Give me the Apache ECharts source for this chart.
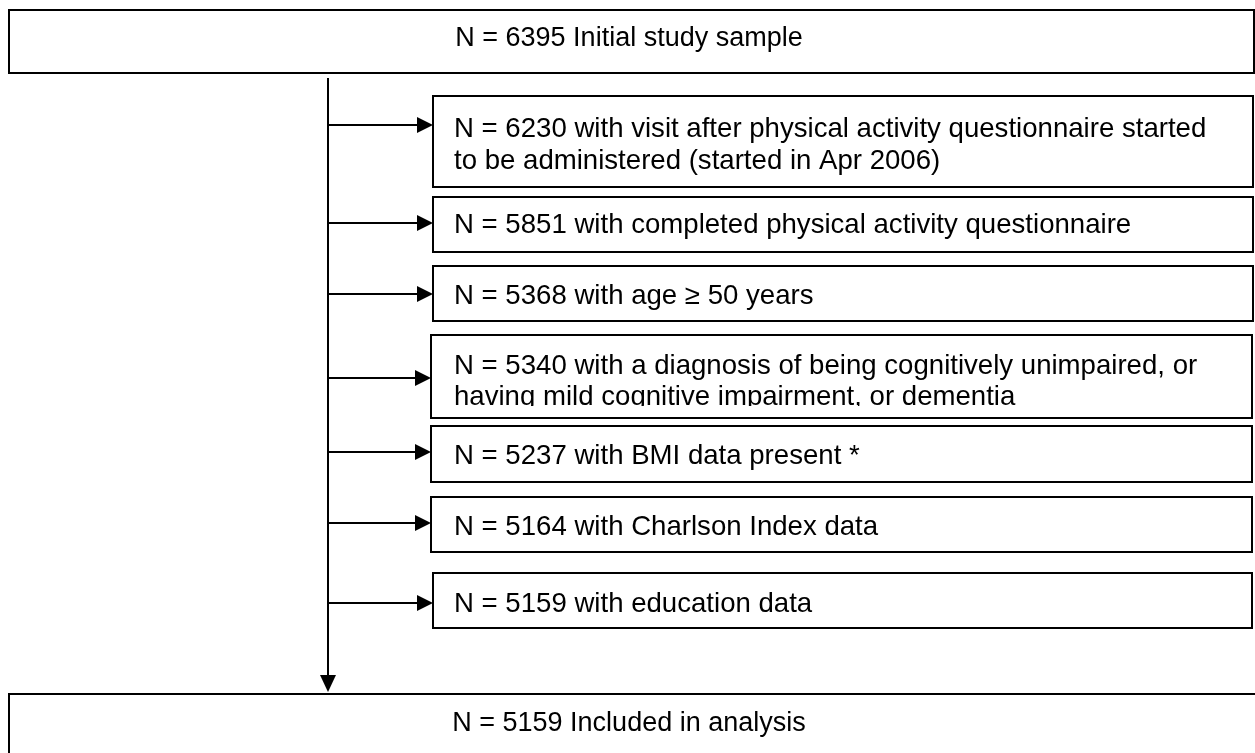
<!DOCTYPE html>
<html>
<head>
<meta charset="utf-8">
<script src="https://cdn.jsdelivr.net/npm/echarts@6/dist/echarts.min.js"></script>
<style>html,body{margin:0;padding:0;background:#fff}#c{width:1255px;height:753px}</style>
</head>
<body>
<div id="c"></div>
<script>
// ---- data ----
const topCount = 6395;
const topLabel = 'Initial study sample';
const stepCounts = [6230, 5851, 5368, 5340, 5237, 5164, 5159];
const stepLabels = [
  ['with visit after physical activity questionnaire started', 'to be administered (started in Apr 2006)'],
  ['with completed physical activity questionnaire'],
  ['with age \u2265 50 years'],
  ['with a diagnosis of being cognitively unimpaired, or', 'having mild cognitive impairment, or dementia'],
  ['with BMI data present *'],
  ['with Charlson Index data'],
  ['with education data']
];
const finalCount = 5159;
const finalLabel = 'Included in analysis';

// ---- layout (pixels) ----
const boxTop = [96, 197, 266, 335, 426, 497, 573];
const boxBottom = [187, 252, 321, 418, 482, 552, 628];
const boxLeft = [433, 433, 433, 431, 431, 431, 433];
const boxRight = [1253, 1253, 1253, 1252, 1252, 1252, 1252];
const textY = [[129, 161], [225], [296], [366, 397], [456], [527], [604]];
const arrowY = [125, 223, 294, 378, 452, 523, 603];
const spineX = 328;
const FONT = '27px "Liberation Sans", Arial, sans-serif';
const STEP_FONT = '27.6px "Liberation Sans", Arial, sans-serif';

const els = [];
const stroke = {stroke: '#000', lineWidth: 2, fill: '#fff'};
function box(x1, y1, x2, y2) {
  els.push({type: 'rect', shape: {x: x1, y: y1, width: x2 - x1, height: y2 - y1}, style: Object.assign({}, stroke), z: 1});
}
function txt(x, y, s, align, font) {
  els.push({type: 'text', x: x, y: y, style: {text: s, font: font || FONT, fill: '#000', align: align || 'left', verticalAlign: 'middle'}, z: 3});
}
function line(x1, y1, x2, y2) {
  els.push({type: 'line', shape: {x1: x1, y1: y1, x2: x2, y2: y2}, style: {stroke: '#000', lineWidth: 2}, z: 2});
}
function head(points) {
  els.push({type: 'polygon', shape: {points: points}, style: {fill: '#000'}, z: 2});
}

// top box
box(9, 10, 1254, 73);
txt(629, 39, 'N = ' + topCount + ' ' + topLabel, 'center');

// spine
line(spineX, 78, spineX, 678);
head([[spineX - 8, 675], [spineX + 8, 675], [spineX, 692]]);

// steps
stepCounts.forEach((n, i) => {
  box(boxLeft[i], boxTop[i], boxRight[i], boxBottom[i]);
  const lines = stepLabels[i];
  lines.forEach((l, j) => {
    txt(454, textY[i][j], (j === 0 ? 'N = ' + n + ' ' : '') + l, 'left', STEP_FONT);
  });
  line(spineX, arrowY[i], boxLeft[i] - 14, arrowY[i]);
  head([[boxLeft[i] - 16, arrowY[i] - 8], [boxLeft[i] - 16, arrowY[i] + 8], [boxLeft[i], arrowY[i]]]);
});
// clipped descenders of box 4 second line (as in the original)
els.push({type: 'rect', shape: {x: 440, y: 406, width: 800, height: 11}, style: {fill: '#fff'}, z: 4});

// final box
box(9, 694, 1262, 770);
txt(629, 724, 'N = ' + finalCount + ' ' + finalLabel, 'center');

const chart = echarts.init(document.getElementById('c'), null, {renderer: 'canvas'});
chart.setOption({animation: false, backgroundColor: '#fff', graphic: {elements: els}});
</script>
</body>
</html>
